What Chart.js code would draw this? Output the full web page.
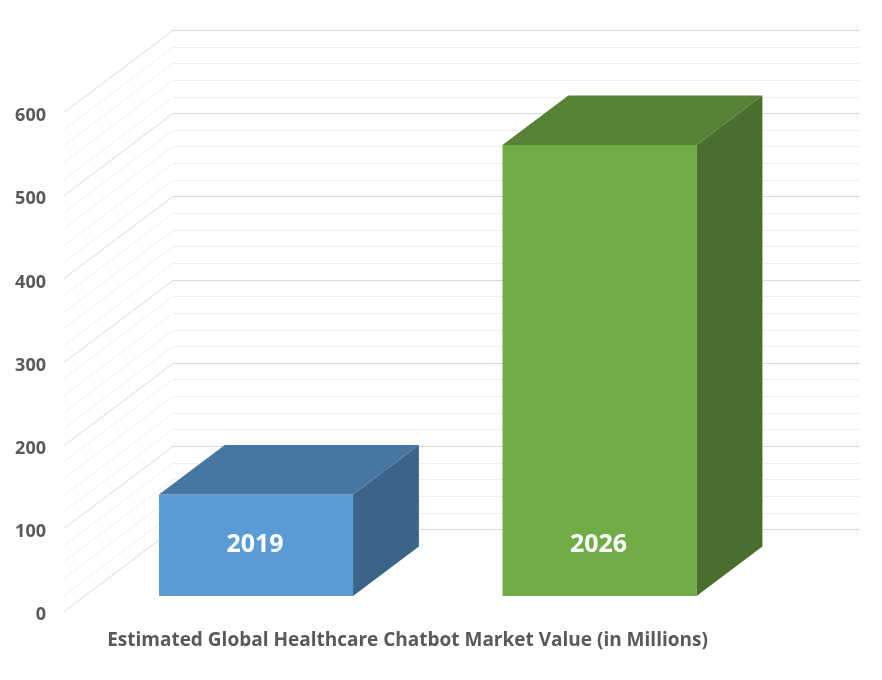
<!DOCTYPE html>
<html>
  <head>
    <meta charset="utf-8">
    <script src="https://cdn.jsdelivr.net/npm/chart.js@4.4.1/dist/chart.umd.min.js"></script>
    <style>
      html, body { margin: 0; padding: 0; background: #ffffff; }
      #wrap { width: 882px; height: 680px; }
    </style>
  </head>
  <body>
    <div id="wrap">
      <canvas id="marketChart" width="882" height="680"></canvas>
    </div>

    <script>
      // data
      var years = ['2019', '2026'];
      var marketValues = [122, 542];
      var yTicks = [0, 100, 200, 300, 400, 500, 600];
      var gridStep = 20;
      var axisTitle = 'Estimated Global Healthcare Chatbot Market Value (in Millions)';

      var frontColors = ['#5B9BD5', '#70AD47'];
      var topColors = ['#4676A1', '#578235'];
      var sideColors = ['#3A6488', '#496E2D'];

      // oblique 3d depth of the whole wall and where the boxes sit inside it
      var WALL_DX = 109, WALL_DY = -82;
      var BAR_FRONT = 0.186, BAR_BACK = 0.79;

      var threeD = {
        id: 'threeD',
        beforeDatasetsDraw: function (chart) {
          var ctx = chart.ctx;
          var area = chart.chartArea;
          var y = chart.scales.y;
          ctx.save();
          ctx.lineWidth = 1;
          for (var v = y.min; v <= y.max; v += gridStep) {
            var py = Math.round(y.getPixelForValue(v)) + 0.5;
            ctx.strokeStyle = (v % 100 === 0) ? '#D9D9D9' : '#EFEFEF';
            ctx.beginPath();
            ctx.moveTo(area.left, py);
            ctx.lineTo(area.left + WALL_DX, py + WALL_DY);
            ctx.lineTo(area.right + WALL_DX, py + WALL_DY);
            ctx.stroke();
          }
          ctx.restore();
          // push the native front faces back into the box position
          ctx.save();
          ctx.translate(WALL_DX * BAR_FRONT, WALL_DY * BAR_FRONT);
        },
        afterDatasetsDraw: function (chart) {
          var ctx = chart.ctx;
          ctx.restore();
          var fx = WALL_DX * BAR_FRONT, fy = WALL_DY * BAR_FRONT;
          var dx = WALL_DX * (BAR_BACK - BAR_FRONT), dy = WALL_DY * (BAR_BACK - BAR_FRONT);
          var zero = chart.scales.y.getPixelForValue(0);
          chart.getDatasetMeta(0).data.forEach(function (bar, i) {
            var l = bar.x - bar.width / 2 + fx;
            var r = bar.x + bar.width / 2 + fx;
            var t = bar.y + fy;
            var b = bar.base + fy;
            ctx.save();
            // top face
            ctx.fillStyle = topColors[i];
            ctx.beginPath();
            ctx.moveTo(l, t);
            ctx.lineTo(l + dx, t + dy);
            ctx.lineTo(r + dx, t + dy);
            ctx.lineTo(r, t);
            ctx.closePath();
            ctx.fill();
            // side face
            ctx.fillStyle = sideColors[i];
            ctx.beginPath();
            ctx.moveTo(r, t);
            ctx.lineTo(r + dx, t + dy);
            ctx.lineTo(r + dx, b + dy);
            ctx.lineTo(r, b);
            ctx.closePath();
            ctx.fill();
            // year label on the front face
            ctx.fillStyle = '#FFFFFF';
            ctx.font = 'bold 25px "Open Sans", sans-serif';
            ctx.textAlign = 'center';
            ctx.textBaseline = 'middle';
            ctx.fillText(years[i], bar.x + fx - 1, zero + fy - 51);
            ctx.restore();
          });
        }
      };

      var ctx = document.getElementById('marketChart').getContext('2d');
      var marketChart = new Chart(ctx, {
          type: 'bar',
          data: {
              labels: years,
              datasets: [{
                  label: 'Market Value',
                  data: marketValues,
                  backgroundColor: frontColors,
                  borderWidth: 0,
                  barPercentage: 1,
                  categoryPercentage: 0.565
              }]
          },
          options: {
              responsive: false,
              animation: false,
              layout: {
                  padding: { top: 112, right: 131, bottom: 28, left: 0 }
              },
              scales: {
                  x: {
                      grid: { display: false, drawTicks: false },
                      border: { display: false },
                      ticks: { display: false },
                      title: {
                          display: true,
                          text: axisTitle,
                          color: '#595959',
                          font: { family: '"Open Sans", sans-serif', size: 19, weight: 'bold' },
                          padding: { top: 18, bottom: 0 }
                      }
                  },
                  y: {
                      min: 0,
                      max: 600,
                      afterFit: function (scale) { scale.width = 64; },
                      afterBuildTicks: function (scale) {
                          scale.ticks = yTicks.map(function (v) { return { value: v }; });
                      },
                      grid: { display: false, drawTicks: false },
                      border: { display: false },
                      ticks: {
                          color: '#595959',
                          padding: 18,
                          labelOffset: 4,
                          font: { family: '"Open Sans", sans-serif', size: 18, weight: 'bold' }
                      }
                  }
              },
              plugins: {
                  legend: { display: false },
                  tooltip: { enabled: false }
              }
          },
          plugins: [threeD]
      });
    </script>
  </body>
</html>
